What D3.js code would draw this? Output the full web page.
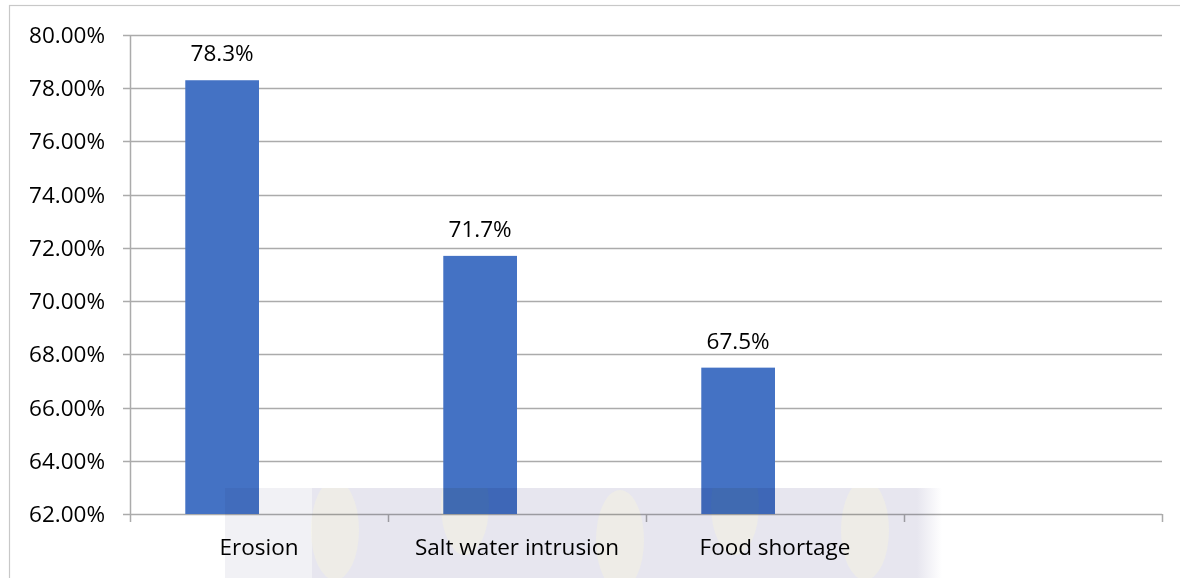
<!DOCTYPE html>
<html><head><meta charset="utf-8">
<script src="https://cdn.jsdelivr.net/npm/d3@7"></script>
<style>
html,body{margin:0;padding:0;background:#fff;}
svg{display:block;font-family:"Open Sans","Liberation Sans",sans-serif;}
</style></head>
<body>
<svg id="chart" width="1180" height="578"></svg>
<script>
const categories = ["Erosion", "Salt water intrusion", "Food shortage", ""];
const values = [0.783, 0.717, 0.675];
const valueLabels = ["78.3%", "71.7%", "67.5%"];
const yTicks = [0.62, 0.64, 0.66, 0.68, 0.70, 0.72, 0.74, 0.76, 0.78, 0.80];
const series = ["s1", "s2"];

(function () {
const svg = d3.select("#chart");
const W = 1180, H = 578;
const pLeft = 130, pRight = 1162, pTop = 35, pBottom = 514;
const FS = 22.5;

// outer border
svg.append("rect").attr("x", 9.5).attr("y", 5.5).attr("width", W + 20).attr("height", H + 20)
  .attr("fill", "#fff").attr("stroke", "#c8c8c8").attr("stroke-width", 1.2);

const y = d3.scaleLinear().domain([0.62, 0.80]).range([pBottom, pTop]);
const x = d3.scaleBand().domain(categories).range([pLeft, pRight]).padding(0);
const xs = d3.scaleBand().domain(series).range([0, x.bandwidth()]).paddingInner(0).paddingOuter(0.75);

// gridlines
svg.append("g").selectAll("line").data(yTicks).join("line")
  .attr("x1", pLeft - 7).attr("x2", pRight)
  .attr("y1", d => Math.round(y(d)) + 0.5).attr("y2", d => Math.round(y(d)) + 0.5)
  .attr("stroke", "#ababab").attr("stroke-width", 1.5);

// y axis line
svg.append("line").attr("x1", pLeft + 0.5).attr("x2", pLeft + 0.5).attr("y1", pTop).attr("y2", pBottom + 8)
  .attr("stroke", "#ababab").attr("stroke-width", 1.5);

// x category ticks
svg.append("g").selectAll("line").data(categories.slice(1).concat(["__end"])).join("line")
  .attr("x1", (d, i) => Math.round(pLeft + x.step() * (i + 1)) + 0.5)
  .attr("x2", (d, i) => Math.round(pLeft + x.step() * (i + 1)) + 0.5)
  .attr("y1", pBottom).attr("y2", pBottom + 8)
  .attr("stroke", "#ababab").attr("stroke-width", 1.5);

// y tick labels
const fmt = d3.format(".2%");
svg.append("g").selectAll("text").data(yTicks).join("text")
  .attr("x", 105).attr("y", d => y(d) + 8)
  .attr("text-anchor", "end").attr("font-size", FS).attr("fill", "#000")
  .text(d => fmt(d));

// bars
const data = values.map((v, i) => ({ cat: categories[i], v, label: valueLabels[i] }));
svg.append("g").selectAll("rect").data(data).join("rect")
  .attr("x", d => x(d.cat) + xs("s1"))
  .attr("width", xs.bandwidth())
  .attr("y", d => y(d.v))
  .attr("height", d => y(0.62) - y(d.v))
  .attr("fill", "#4472C4");

// value labels
svg.append("g").selectAll("text").data(data).join("text")
  .attr("x", d => x(d.cat) + xs("s1") + xs.bandwidth() / 2)
  .attr("y", d => y(d.v) - 19)
  .attr("text-anchor", "middle").attr("font-size", FS).attr("fill", "#000")
  .text(d => d.label);

// watermark overlay (faded logo)
const defs = svg.append("defs");
const grad = defs.append("linearGradient").attr("id", "fade");
grad.append("stop").attr("offset", "0").attr("stop-color", "#e7e6ef");
grad.append("stop").attr("offset", "1").attr("stop-color", "#ffffff");
defs.append("clipPath").attr("id", "wmclip").append("rect")
  .attr("x", 225).attr("y", 488).attr("width", 720).attr("height", 95);
const wm = svg.append("g").style("mix-blend-mode", "multiply").attr("clip-path", "url(#wmclip)");
wm.append("rect").attr("x", 225).attr("y", 488).attr("width", 88).attr("height", 95).attr("fill", "#f1f1f5");
wm.append("rect").attr("x", 312).attr("y", 488).attr("width", 605).attr("height", 95).attr("fill", "#e7e6ef");
wm.append("rect").attr("x", 917).attr("y", 488).attr("width", 25).attr("height", 95).attr("fill", "url(#fade)");
const crescents = [[335, 530], [465, 505], [620, 540], [735, 505], [865, 530]];
wm.selectAll("ellipse").data(crescents).join("ellipse")
  .attr("cx", d => d[0]).attr("cy", d => d[1]).attr("rx", 24).attr("ry", 50)
  .attr("fill", "#f7f3de").attr("opacity", 0.45);

// category labels (on top)
svg.append("g").selectAll("text").data(categories.filter(c => c)).join("text")
  .attr("x", d => x(d) + x.bandwidth() / 2)
  .attr("y", 555)
  .attr("text-anchor", "middle").attr("font-size", FS).attr("fill", "#000")
  .text(d => d);
})();
</script>
</body></html>
